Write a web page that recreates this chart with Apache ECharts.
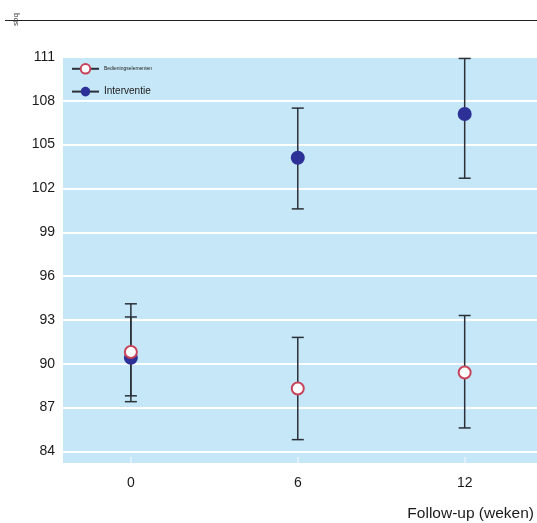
<!DOCTYPE html>
<html>
<head>
<meta charset="utf-8">
<script src="https://cdn.jsdelivr.net/npm/echarts@6/dist/echarts.min.js"></script>
<style>html,body{margin:0;padding:0;background:#fff}#c{width:537px;height:523px}</style>
</head>
<body>
<div id="c"></div>
<script>
const weeks = [0, 6, 12];
const xTickLabels = [0, 6, 12];
const yTickLabels = [84, 87, 90, 93, 96, 99, 102, 105, 108, 111];
const seriesNames = ['Bedieningselementen', 'Interventie'];
const controlMean = [90.8, 88.3, 89.4];
const controlLow = [87.4, 84.8, 85.6];
const controlHigh = [94.1, 91.8, 93.3];
const interventionMean = [90.4, 104.1, 107.1];
const interventionLow = [87.8, 100.6, 102.7];
const interventionHigh = [93.2, 107.5, 110.9];

const chart = echarts.init(document.getElementById('c'), null, {renderer: 'canvas'});

function errData(low, high) {
  return weeks.map((w, i) => [w, low[i], high[i]]);
}
function errSeries(low, high) {
  return {
    type: 'custom',
    silent: true,
    z: 1,
    data: errData(low, high),
    renderItem: function (params, api) {
      const x = api.value(0);
      const p1 = api.coord([x, api.value(1)]);
      const p2 = api.coord([x, api.value(2)]);
      const hw = 6;
      const st = {stroke: '#2b3038', lineWidth: 1.5, fill: null};
      return {
        type: 'group',
        children: [
          {type: 'line', shape: {x1: p1[0], y1: p1[1], x2: p2[0], y2: p2[1]}, style: st},
          {type: 'line', shape: {x1: p1[0] - hw, y1: p1[1], x2: p1[0] + hw, y2: p1[1]}, style: st},
          {type: 'line', shape: {x1: p2[0] - hw, y1: p2[1], x2: p2[0] + hw, y2: p2[1]}, style: st}
        ]
      };
    }
  };
}

const option = {
  animation: false,
  backgroundColor: '#ffffff',
  grid: {left: 63, right: 0, top: 57, bottom: 60, show: true, backgroundColor: '#c5e7f7', borderWidth: 0},
  xAxis: {
    type: 'value',
    min: -2.44,
    max: 14.6,
    axisLine: {show: false},
    splitLine: {show: false},
    axisTick: {show: true, inside: true, length: 6, customValues: xTickLabels, lineStyle: {color: '#e6f4fb', width: 1.5}},
    axisLabel: {customValues: xTickLabels, fontFamily: 'Liberation Sans, Arial', fontSize: 14, color: '#1a1a1a', margin: 13}
  },
  yAxis: {
    type: 'value',
    min: 83.2,
    max: 111,
    axisLine: {show: false},
    axisTick: {show: false, customValues: yTickLabels},
    splitLine: {show: true, lineStyle: {color: '#ffffff', width: 2}},
    axisLabel: {customValues: yTickLabels, fontFamily: 'Liberation Sans, Arial', fontSize: 14, color: '#1a1a1a', margin: 8}
  },
  legend: {
    left: 71,
    top: 62,
    padding: 0,
    orient: 'vertical',
    itemGap: 10,
    itemWidth: 27,
    itemHeight: 12,
    lineStyle: {color: '#2b3038', width: 2, opacity: 1},
    data: [
      {name: seriesNames[0], textStyle: {fontSize: 5, color: '#222'}},
      {name: seriesNames[1], textStyle: {fontSize: 10, color: '#1a1a1a'}}
    ],
    textStyle: {fontFamily: 'Liberation Sans, Arial'}
  },
  graphic: [
    {type: 'line', shape: {x1: 5, y1: 20.5, x2: 537, y2: 20.5}, style: {stroke: '#222', lineWidth: 1}},
    {type: 'text', x: 12, y: 26, rotation: Math.PI / 2, style: {text: 'sbq', fontSize: 8, fill: '#333', fontFamily: 'Liberation Sans'}},
    {type: 'text', right: 3, top: 506, style: {text: 'Follow-up (weken)', fontSize: 15.5, fill: '#1a1a1a', fontFamily: 'Liberation Sans, Arial'}}
  ],
  series: [
    errSeries(interventionLow, interventionHigh),
    errSeries(controlLow, controlHigh),
    {
      name: seriesNames[1],
      type: 'line',
      z: 3,
      data: weeks.map((w, i) => [w, interventionMean[i]]),
      symbol: 'circle',
      symbolSize: 14,
      lineStyle: {width: 0, opacity: 0},
      itemStyle: {color: '#2d3096', borderWidth: 0}
    },
    {
      name: seriesNames[0],
      type: 'line',
      z: 4,
      data: weeks.map((w, i) => [w, controlMean[i]]),
      symbol: 'circle',
      symbolSize: 12,
      lineStyle: {width: 0, opacity: 0},
      itemStyle: {color: '#ffffff', borderColor: '#c8435a', borderWidth: 2}
    }
  ]
};
option.legend.top = 63;
option.legend.itemGap = 12;
chart.setOption(option);
</script>
</body>
</html>
